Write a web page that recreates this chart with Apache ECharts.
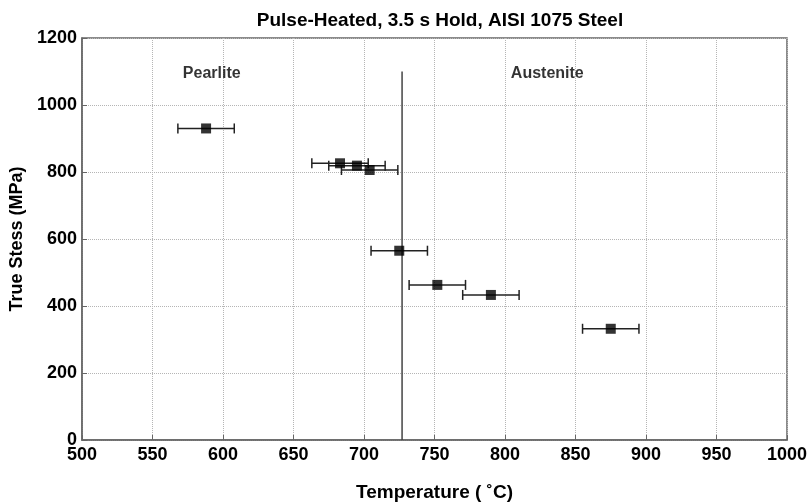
<!DOCTYPE html>
<html>
<head>
<meta charset="utf-8">
<script src="https://cdn.jsdelivr.net/npm/echarts@6/dist/echarts.min.js"></script>
<style>
  html, body { margin: 0; padding: 0; background: #fff; }
  #chart { width: 811px; height: 504px; }
</style>
</head>
<body>
<div id="chart"></div>
<script>
// measured points: temperature (C), true stress (MPa), +/- temperature error
var temps = [588, 683, 695, 704, 725, 752, 790, 875];
var stress = [930, 826, 819, 806, 565, 463, 433, 332];
var tempErr = [20, 20, 20, 20, 20, 20, 20, 20];

// eutectoid line
var a1Temp = 727;
var a1Top = 1100;

var phaseLabels = [
    { name: 'Pearlite', value: [592, 1095] },
    { name: 'Austenite', value: [830, 1095] }
];

var fontFam = '"Liberation Sans", Arial, sans-serif';

var chart = echarts.init(document.getElementById('chart'));

var points = [];
var bars = [];
for (var i = 0; i < temps.length; i++) {
    points.push([temps[i], stress[i]]);
    bars.push([temps[i] - tempErr[i], temps[i] + tempErr[i], stress[i]]);
}

var plain = function (v) { return String(v); };

chart.setOption({
    animation: false,
    title: {
        text: 'Pulse-Heated, 3.5 s Hold, AISI 1075 Steel',
        left: 435,
        textAlign: 'center',
        top: 6,
        textStyle: { fontFamily: fontFam, fontWeight: 'bold', fontSize: 19, color: '#000' }
    },
    grid: {
        left: 82, right: 24, top: 38, bottom: 64,
        outerBoundsMode: 'none',
        show: true, borderColor: '#666', borderWidth: 1.5
    },
    xAxis: {
        type: 'value',
        min: 500, max: 1000, interval: 50,
        name: 'Temperature ( \u02DAC)',
        nameLocation: 'middle',
        nameGap: 43,
        nameTextStyle: { fontFamily: fontFam, fontWeight: 'bold', fontSize: 19, color: '#000' },
        axisLine: { show: true, lineStyle: { color: '#666', width: 1.5 } },
        axisTick: { show: true, inside: true, length: 5, lineStyle: { color: '#666' } },
        axisLabel: { fontFamily: fontFam, fontWeight: 'bold', fontSize: 18, color: '#000', margin: 6, formatter: plain },
        splitLine: { show: true, lineStyle: { type: 'dotted', color: '#b5b5b5' } }
    },
    yAxis: {
        type: 'value',
        min: 0, max: 1200, interval: 200,
        name: 'True Stess (MPa)',
        nameLocation: 'middle',
        nameGap: 56,
        nameTextStyle: { fontFamily: fontFam, fontWeight: 'bold', fontSize: 18, color: '#000' },
        axisLine: { show: true, lineStyle: { color: '#666', width: 1.5 } },
        axisTick: { show: true, inside: true, length: 5, lineStyle: { color: '#666' } },
        axisLabel: { fontFamily: fontFam, fontWeight: 'bold', fontSize: 18, color: '#000', margin: 5, formatter: plain },
        splitLine: { show: true, lineStyle: { type: 'dotted', color: '#b5b5b5' } }
    },
    series: [
        {
            type: 'line',
            data: [[a1Temp, 0], [a1Temp, a1Top]],
            symbol: 'none',
            lineStyle: { color: '#444', width: 1.5 },
            z: 1
        },
        {
            type: 'custom',
            data: bars,
            renderItem: function (params, api) {
                var lo = api.coord([api.value(0), api.value(2)]);
                var hi = api.coord([api.value(1), api.value(2)]);
                var cap = 5;
                var style = { stroke: '#222', lineWidth: 1.5 };
                return {
                    type: 'group',
                    children: [
                        { type: 'line', shape: { x1: lo[0], y1: lo[1], x2: hi[0], y2: hi[1] }, style: style },
                        { type: 'line', shape: { x1: lo[0], y1: lo[1] - cap, x2: lo[0], y2: lo[1] + cap }, style: style },
                        { type: 'line', shape: { x1: hi[0], y1: hi[1] - cap, x2: hi[0], y2: hi[1] + cap }, style: style }
                    ]
                };
            },
            z: 2
        },
        {
            type: 'scatter',
            data: points,
            symbol: 'rect',
            symbolSize: 10,
            itemStyle: { color: '#000' },
            z: 3
        },
        {
            type: 'scatter',
            data: phaseLabels,
            symbolSize: 0,
            label: {
                show: true,
                position: 'inside',
                formatter: '{b}',
                fontFamily: fontFam,
                fontWeight: 'bold',
                fontSize: 16,
                color: '#000'
            }
        }
    ]
});
</script>
</body>
</html>
